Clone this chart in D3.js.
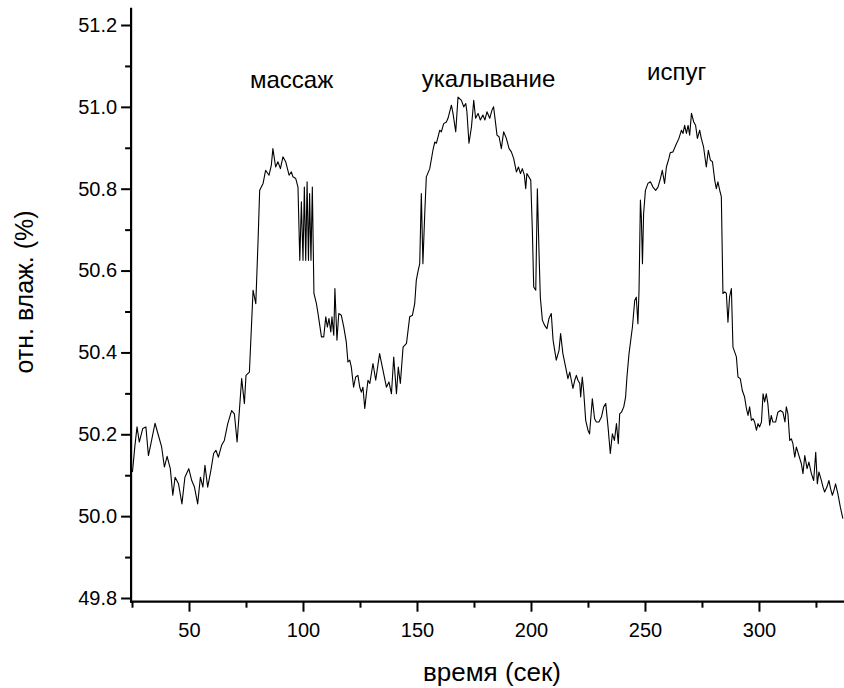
<!DOCTYPE html>
<html>
<head>
<meta charset="utf-8">
<script src="https://cdn.jsdelivr.net/npm/d3@7"></script>
<style>
  body { margin: 0; background: #fff; }
  svg { display: block; font-family: Arial, 'Liberation Sans', sans-serif; }
</style>
</head>
<body>
<svg id="chart" width="844" height="688"></svg>
<script>
// time, seconds
const timeSec = [
  25.2, 26.3, 27.2, 28.2, 29.7, 31.1, 32.2, 33.3, 35.1, 36.6,
  38.0, 39.2, 40.4, 41.8, 42.9, 43.9, 45.4, 46.9, 48.2, 49.9,
  51.2, 52.4, 53.8, 55.0, 56.1, 57.0, 58.2, 59.6, 60.8, 61.8,
  62.9, 64.3, 65.5, 67.0, 68.7, 69.9, 71.1, 72.1, 73.1, 74.3,
  75.0, 76.5,
  78.1, 79.3, 80.3, 81.0, 82.5, 83.6, 85.1, 86.1, 86.8, 88.0,
  89.0, 90.1, 91.2, 92.4, 93.9, 94.9, 95.6, 96.8, 97.8, 98.6,
  99.3, 100.0, 100.6, 101.2, 101.8, 102.4, 102.9, 103.5, 104.1, 104.8,
  105.9, 106.6, 108.1, 109.1, 110.0, 110.7, 111.4, 112.2, 112.7, 113.5,
  114.0, 114.9, 115.7, 116.8, 117.9, 119.0, 119.7, 120.5, 121.2, 122.2,
  123.1, 124.1, 124.9, 125.6, 126.3, 127.1, 127.8, 128.5,
  129.3, 130.7, 131.9, 133.6, 135.1, 136.6, 137.7, 138.8, 139.8, 141.0,
  141.8, 142.7, 143.9, 145.4, 146.8, 148.0, 149.0, 149.7, 150.4, 151.2,
  151.9, 152.6, 153.4, 154.1, 155.6, 157.0, 157.8, 158.5, 160.0, 160.7,
  161.7, 162.9, 163.6, 165.1, 165.8, 167.0, 168.0, 169.5, 170.5, 171.4,
  171.9, 172.8, 173.9, 174.9, 175.7, 176.8, 177.8, 178.9, 179.8, 180.7,
  181.9, 182.9, 183.6, 184.5, 185.1, 186.0, 187.0, 188.0, 189.2, 190.4,
  191.4, 192.4, 193.6, 194.5, 195.4, 196.2, 197.1, 197.7, 198.2,
  199.9, 200.6, 201.2, 202.1, 202.8, 203.5, 204.1, 205.0, 206.0, 207.0,
  207.9, 208.9, 209.7, 210.4, 211.1, 212.3, 213.0, 214.0, 215.2, 216.2,
  217.0, 217.7, 218.4, 219.2, 219.9, 220.6, 221.4, 221.8, 222.5, 223.1,
  224.0, 225.0, 225.7, 226.9, 227.9, 228.7, 229.8, 230.9, 231.9, 232.8,
  233.8, 234.8, 235.7, 236.6, 237.5, 238.3, 238.9, 239.7, 240.7, 241.5,
  242.1, 243.0,
  244.5, 245.5, 246.2, 246.9, 247.4, 248.0, 248.4, 248.9, 249.4, 250.2,
  251.3, 252.4, 253.5, 254.7, 255.7, 256.8, 257.6, 258.6, 259.4, 260.5,
  261.1, 262.3, 263.5, 264.9, 266.0, 266.7, 267.4, 268.2, 268.9, 269.6,
  270.4, 271.4, 272.2, 273.0, 274.0, 274.7, 275.7, 276.9, 277.8, 278.7,
  279.6, 280.6, 281.3, 282.0, 282.8, 283.5, 284.2, 285.0, 285.7, 286.4,
  287.1, 287.9, 288.6,
  290.1, 290.8, 291.8, 292.7, 293.7, 294.5, 295.2, 295.9, 296.7, 297.4,
  298.1, 298.9, 299.6, 300.3, 301.1, 301.8, 302.5, 303.2, 303.9, 304.7,
  305.4, 306.1, 307.3, 308.3, 309.4, 310.5, 311.4, 312.0, 312.7, 313.5,
  314.2, 314.9, 315.7, 316.4, 317.1, 318.6, 319.3, 320.1, 321.1, 321.9,
  323.0, 324.0, 324.9, 325.6, 326.3, 327.4, 328.1, 328.8, 329.8, 330.7,
  331.4, 332.2, 332.9, 333.6, 334.6, 335.7, 336.8
]

// relative humidity, %
const relHum = [
  50.108, 50.173, 50.218, 50.181, 50.214, 50.218, 50.148, 50.177, 50.227, 50.197,
  50.169, 50.120, 50.146, 50.116, 50.051, 50.095, 50.079, 50.030, 50.095, 50.116,
  50.087, 50.071, 50.030, 50.095, 50.071, 50.124, 50.071, 50.112, 50.153, 50.161,
  50.144, 50.173, 50.185, 50.226, 50.258, 50.250, 50.181, 50.258, 50.336, 50.275,
  50.344, 50.352,
  50.552, 50.519, 50.674, 50.796, 50.813, 50.845, 50.833, 50.857, 50.898, 50.853,
  50.866, 50.849, 50.878, 50.866, 50.833, 50.841, 50.829, 50.825, 50.804, 50.625,
  50.768, 50.625, 50.804, 50.625, 50.817, 50.625, 50.788, 50.625, 50.804, 50.544,
  50.519, 50.495, 50.438, 50.438, 50.487, 50.462, 50.483, 50.450, 50.487, 50.442,
  50.556, 50.430, 50.495, 50.491, 50.462, 50.425, 50.377, 50.381, 50.364, 50.315,
  50.340, 50.344, 50.315, 50.303, 50.315, 50.263, 50.299, 50.332,
  50.324, 50.373, 50.332, 50.397, 50.356, 50.315, 50.328, 50.299, 50.389, 50.299,
  50.364, 50.324, 50.413, 50.422, 50.487, 50.491, 50.519, 50.576, 50.597, 50.617,
  50.788, 50.617, 50.739, 50.829, 50.849, 50.894, 50.914, 50.911, 50.943, 50.939,
  50.959, 50.963, 50.972, 51.004, 50.984, 50.939, 51.024, 51.016, 51.000, 51.008,
  50.988, 50.911, 50.951, 51.016, 50.972, 50.984, 50.968, 50.980, 50.968, 50.988,
  50.972, 50.992, 51.000, 50.959, 50.931, 50.927, 50.898, 50.939, 50.923, 50.898,
  50.890, 50.874, 50.841, 50.853, 50.837, 50.849, 50.833, 50.800, 50.837,
  50.821, 50.699, 50.560, 50.552, 50.800, 50.650, 50.535, 50.479, 50.466, 50.458,
  50.483, 50.495, 50.430, 50.405, 50.381, 50.405, 50.446, 50.397, 50.364, 50.336,
  50.352, 50.332, 50.312, 50.332, 50.344, 50.332, 50.324, 50.291, 50.340, 50.307,
  50.234, 50.210, 50.201, 50.287, 50.238, 50.230, 50.230, 50.242, 50.267, 50.275,
  50.218, 50.153, 50.201, 50.185, 50.226, 50.177, 50.250, 50.254, 50.267, 50.291,
  50.340, 50.397,
  50.462, 50.527, 50.535, 50.470, 50.552, 50.772, 50.731, 50.617, 50.739, 50.796,
  50.813, 50.817, 50.804, 50.796, 50.804, 50.825, 50.845, 50.813, 50.853, 50.874,
  50.888, 50.890, 50.906, 50.923, 50.943, 50.935, 50.955, 50.935, 50.955, 50.931,
  50.984, 50.963, 50.955, 50.923, 50.943, 50.923, 50.902, 50.853, 50.894, 50.870,
  50.866, 50.821, 50.800, 50.817, 50.796, 50.780, 50.544, 50.548, 50.544, 50.474,
  50.535, 50.556, 50.413,
  50.389, 50.340, 50.336, 50.307, 50.291, 50.263, 50.246, 50.267, 50.234, 50.238,
  50.230, 50.210, 50.226, 50.218, 50.230, 50.299, 50.279, 50.299, 50.275, 50.222,
  50.246, 50.230, 50.230, 50.254, 50.258, 50.254, 50.230, 50.267, 50.250, 50.185,
  50.189, 50.177, 50.144, 50.169, 50.156, 50.128, 50.104, 50.148, 50.116, 50.132,
  50.104, 50.087, 50.156, 50.079, 50.108, 50.087, 50.071, 50.059, 50.071, 50.087,
  50.067, 50.051, 50.063, 50.079, 50.055, 50.022, 49.994
]

const xMajor = [50, 100, 150, 200, 250, 300]
const xMinor = [25, 75, 125, 175, 225, 275, 325]
const yMajor = [49.8, 50.0, 50.2, 50.4, 50.6, 50.8, 51.0, 51.2]
const yMinor = [49.9, 50.1, 50.3, 50.5, 50.7, 50.9, 51.1]

const noteText = ['массаж', 'укалывание', 'испуг']
const noteTime = [95.0, 181.4, 263.9]
const noteHum = [51.046, 51.048, 51.065]

const xTitle = 'время (сек)'
const yTitle = 'отн. влаж. (%)'

const width = 844
const height = 688

const x = d3.scaleLinear().domain([25, 337.3]).range([132, 844])
const y = d3.scaleLinear().domain([49.8, 51.2]).range([598, 25])

const svg = d3.select('#chart')

const points = d3.zip(timeSec, relHum)

// minor ticks
svg.append('g')
  .attr('transform', `translate(0,${y(49.791)})`)
  .call(d3.axisBottom(x).tickValues(xMinor).tickSize(6).tickFormat(''))
svg.append('g')
  .attr('transform', `translate(${x(24.6)},0)`)
  .call(d3.axisLeft(y).tickValues(yMinor).tickSize(6).tickFormat(''))

// major ticks with labels
svg.append('g')
  .attr('class', 'xaxis')
  .attr('transform', `translate(0,${y(49.791)})`)
  .call(d3.axisBottom(x).tickValues(xMajor).tickSize(10).tickPadding(11).tickFormat(d3.format('d')))
svg.append('g')
  .attr('class', 'yaxis')
  .attr('transform', `translate(${x(24.6)},0)`)
  .call(d3.axisLeft(y).tickValues(yMajor).tickSize(10).tickPadding(4).tickFormat(d3.format('.1f')))

svg.selectAll('.domain').remove()
svg.selectAll('.tick line').attr('stroke', '#000').attr('stroke-width', 2)
svg.selectAll('.tick text')
  .attr('fill', '#000')
  .style('font-size', '20px')
  .style('font-family', "Arial, 'Liberation Sans', sans-serif")

// axis lines
svg.append('line')
  .attr('x1', x(24.6)).attr('x2', x(24.6))
  .attr('y1', y(51.242)).attr('y2', y(49.791) + 1)
  .attr('stroke', '#000').attr('stroke-width', 2.2)
svg.append('line')
  .attr('x1', x(24.6) - 1).attr('x2', width)
  .attr('y1', y(49.791)).attr('y2', y(49.791))
  .attr('stroke', '#000').attr('stroke-width', 2.2)

// the series
const line = d3.line()
  .x((d) => x(d[0]))
  .y((d) => y(d[1]))

svg.append('path')
  .datum(points)
  .attr('fill', 'none')
  .attr('stroke', '#000')
  .attr('stroke-width', 1.1)
  .attr('stroke-linejoin', 'round')
  .attr('d', line)

// labels over the peaks
svg.selectAll('text.note')
  .data(noteText)
  .enter()
  .append('text')
  .attr('class', 'note')
  .attr('x', (_, i) => x(noteTime[i]))
  .attr('y', (_, i) => y(noteHum[i]))
  .attr('text-anchor', 'middle')
  .style('font-size', '24px')
  .text((d) => d)

// axis titles
svg.append('text')
  .attr('x', 492)
  .attr('y', 681)
  .attr('text-anchor', 'middle')
  .style('font-size', '26px')
  .text(xTitle)

svg.append('text')
  .attr('transform', 'translate(33,292) rotate(-90)')
  .attr('text-anchor', 'middle')
  .style('font-size', '25px')
  .text(yTitle)
</script>
</body>
</html>
